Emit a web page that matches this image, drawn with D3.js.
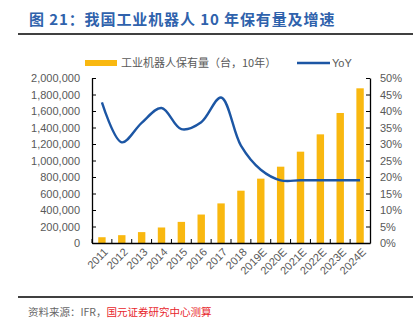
<!DOCTYPE html>
<html>
<head>
<meta charset="utf-8">
<script src="https://cdn.jsdelivr.net/npm/d3@7/dist/d3.min.js"></script>
<style>
body{margin:0;background:#fff;}
svg{display:block;font-family:"Liberation Sans","Noto Sans CJK SC",sans-serif;}
</style>
</head>
<body>
<div id="chart"></div>
<script>
var years=["2011","2012","2013","2014","2015","2016","2017","2018","2019E","2020E","2021E","2022E","2023E","2024E"];
var stock=[70000,95000,132000,188000,256000,345000,480000,634000,780000,925000,1107000,1317000,1576000,1875000];//保有量
var yoy=[0.426,0.305,0.364,0.409,0.345,0.366,0.441,0.295,0.222,0.19,0.19,0.19,0.19,0.19];
var leftTicks=[0,200000,400000,600000,800000,1000000,1200000,1400000,1600000,1800000,2000000];
var rightTicks=[0,0.05,0.1,0.15,0.2,0.25,0.3,0.35,0.4,0.45,0.5];

var W=420,H=333;
var m={l:92,r:50,t:78,b:90};
var svg=d3.select('#chart').append('svg').attr('width',W).attr('height',H);

// 标题
svg.append('text').attr('x',29).attr('y',25)
   .attr('fill','#2f62ac').attr('font-size',15).attr('font-weight','bold')
   .attr('letter-spacing',0.9)
   .attr('font-family','"Noto Sans CJK SC",sans-serif')
   .text('图 21：我国工业机器人 10 年保有量及增速');
svg.append('line').attr('x1',18).attr('x2',413).attr('y1',34).attr('y2',34)
   .attr('stroke','#000').attr('stroke-width',1.5);
svg.append('line').attr('x1',18).attr('x2',413).attr('y1',297).attr('y2',297)
   .attr('stroke','#000').attr('stroke-width',1.5);

var src=svg.append('text').attr('x',28).attr('y',316).attr('font-size',10.5)
   .attr('font-family','"Noto Sans CJK SC",sans-serif');
src.append('tspan').attr('fill','#666').text('资料来源：IFR，');
src.append('tspan').attr('fill','#e8262b').text('国元证券研究中心测算');

var x=d3.scaleBand().domain(years).range([m.l,W-m.r]);
var yL=d3.scaleLinear().domain([0,2000000]).range([H-m.b,m.t]);
var yR=d3.scaleLinear().domain([0,0.5]).range([H-m.b,m.t]);

// 柱
svg.selectAll('.bar').data(years).enter().append('rect')
   .attr('x',function(d){return x(d)+x.bandwidth()/2-3.7;})
   .attr('width',7.4)
   .attr('y',function(d,i){return yL(stock[i]);})
   .attr('height',function(d,i){return yL(0)-yL(stock[i]);})
   .attr('fill','#f9b810');

// 坐标轴
var gL=svg.append('g').attr('transform','translate('+m.l+',0)')
   .call(d3.axisLeft(yL).tickValues(leftTicks).tickSizeInner(-4).tickSizeOuter(0).tickPadding(12).tickFormat(d3.format(',')));
var gR=svg.append('g').attr('transform','translate('+(W-m.r)+',0)')
   .call(d3.axisRight(yR).tickValues(rightTicks).tickSizeInner(-4).tickSizeOuter(0).tickPadding(10).tickFormat(d3.format('.0%')));
var gB=svg.append('g').attr('transform','translate(0,'+(H-m.b)+')')
   .call(d3.axisBottom(x).tickSize(0).tickPadding(0));
gB.selectAll('.tick').each(function(d){
   d3.select(this).append('line').attr('x1',-x.bandwidth()/2).attr('x2',-x.bandwidth()/2)
     .attr('y1',0).attr('y2',-4).attr('stroke','#000');
});
gB.selectAll('text').attr('text-anchor','end')
   .attr('transform','translate(4,7) rotate(-45)').attr('dy','0.35em');
[gL,gR,gB].forEach(function(g){
   g.select('.domain').attr('stroke','#000').attr('stroke-width',1.3);
   g.selectAll('text').attr('fill','#595959').attr('font-size',11)
     .attr('font-family','"Liberation Sans",sans-serif');
});
gL.selectAll('.tick line').attr('stroke','#000');
gR.selectAll('.tick line').attr('stroke','#000');

// 折线
var line=d3.line()
   .x(function(d,i){return x(years[i])+x.bandwidth()/2;})
   .y(function(d){return yR(d);})
   .curve(d3.curveCatmullRom);
svg.append('path').datum(yoy).attr('d',line)
   .attr('fill','none').attr('stroke','#1c56a4').attr('stroke-width',2.4);

// 图例
var lg=svg.append('g').attr('font-size',11).attr('fill','#595959')
   .attr('font-family','"Noto Sans CJK SC",sans-serif');
lg.append('rect').attr('x',85).attr('y',60).attr('width',32).attr('height',6).attr('fill','#f9b810');
lg.append('text').attr('x',121).attr('y',67).text('工业机器人保有量（台，10年）');
lg.append('line').attr('x1',297).attr('x2',330).attr('y1',63).attr('y2',63)
   .attr('stroke','#1c56a4').attr('stroke-width',2.4);
lg.append('text').attr('x',332).attr('y',67).attr('font-family','"Liberation Sans",sans-serif').text('YoY');
</script>
</body>
</html>
